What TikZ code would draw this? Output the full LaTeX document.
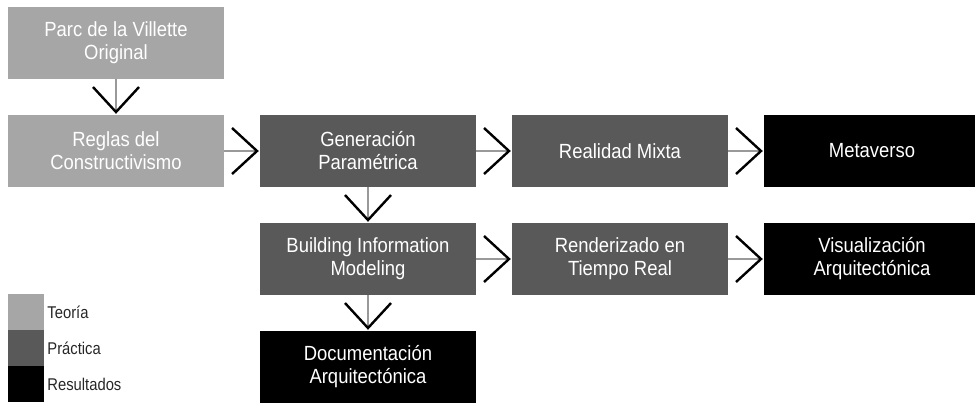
\documentclass[tikz,border=0pt]{standalone}
\usepackage{fontspec}
\newfontfamily\boxfont[FakeStretch=0.9]{Liberation Sans}
\newfontfamily\legendfont[FakeStretch=0.87]{Liberation Sans}
\usetikzlibrary{arrows.meta}

\definecolor{teoria}{HTML}{A6A6A6}
\definecolor{practica}{HTML}{595959}
\definecolor{resultado}{HTML}{000000}

\tikzset{
  box/.style={minimum width=216pt, minimum height=72pt, inner sep=0pt, align=center,
    text=white, font=\boxfont\fontsize{20.5}{23}\selectfont},
  flow/.style={draw=black!40, line width=1.3pt, shorten >=1pt,
    -{Straight Barb[length=25pt, width=46pt, line width=2.4pt, color=black]}},
  key/.style={minimum width=36pt, minimum height=36pt, inner sep=0pt},
  keytext/.style={anchor=west, inner sep=3pt, text=black!85,
    font=\legendfont\fontsize{17}{20}\selectfont}
}

\begin{document}
\begin{tikzpicture}[x=1pt, y=-1pt]
\useasboundingbox (0,0) rectangle (975,402);
\clip (0,0) rectangle (975,402);

% boxes
\node[box, fill=teoria] (parc) at (116,43) {Parc de la Villette\\Original};
\node[box, fill=teoria] (reglas) at (116,151) {Reglas del\\Constructivismo};
\node[box, fill=practica] (param) at (368,151) {Generación\\Paramétrica};
\node[box, fill=practica] (mixta) at (620,151) {Realidad Mixta};
\node[box, fill=resultado] (meta) at (872,151) {Metaverso};
\node[box, fill=practica] (bim) at (368,259) {Building Information\\Modeling};
\node[box, fill=practica] (render) at (620,259) {Renderizado en\\Tiempo Real};
\node[box, fill=resultado] (visual) at (872,259) {Visualización\\Arquitectónica};
\node[box, fill=resultado] (docu) at (368,367) {Documentación\\Arquitectónica};

% connectors
\draw[flow] (parc) -- (reglas);
\draw[flow] (reglas) -- (param);
\draw[flow] (param) -- (mixta);
\draw[flow] (mixta) -- (meta);
\draw[flow] (param) -- (bim);
\draw[flow] (bim) -- (render);
\draw[flow] (render) -- (visual);
\draw[flow] (bim) -- (docu);

% legend
\node[key, fill=teoria] (kteo) at (26,312) {};
\node[key, fill=practica] (kprac) at (26,348) {};
\node[key, fill=resultado] (kres) at (26,384) {};
\node[keytext] (lteo) at (kteo.east) {Teoría};
\node[keytext] (lprac) at (kprac.east) {Práctica};
\node[keytext] (lres) at (kres.east) {Resultados};
\end{tikzpicture}
\end{document}
